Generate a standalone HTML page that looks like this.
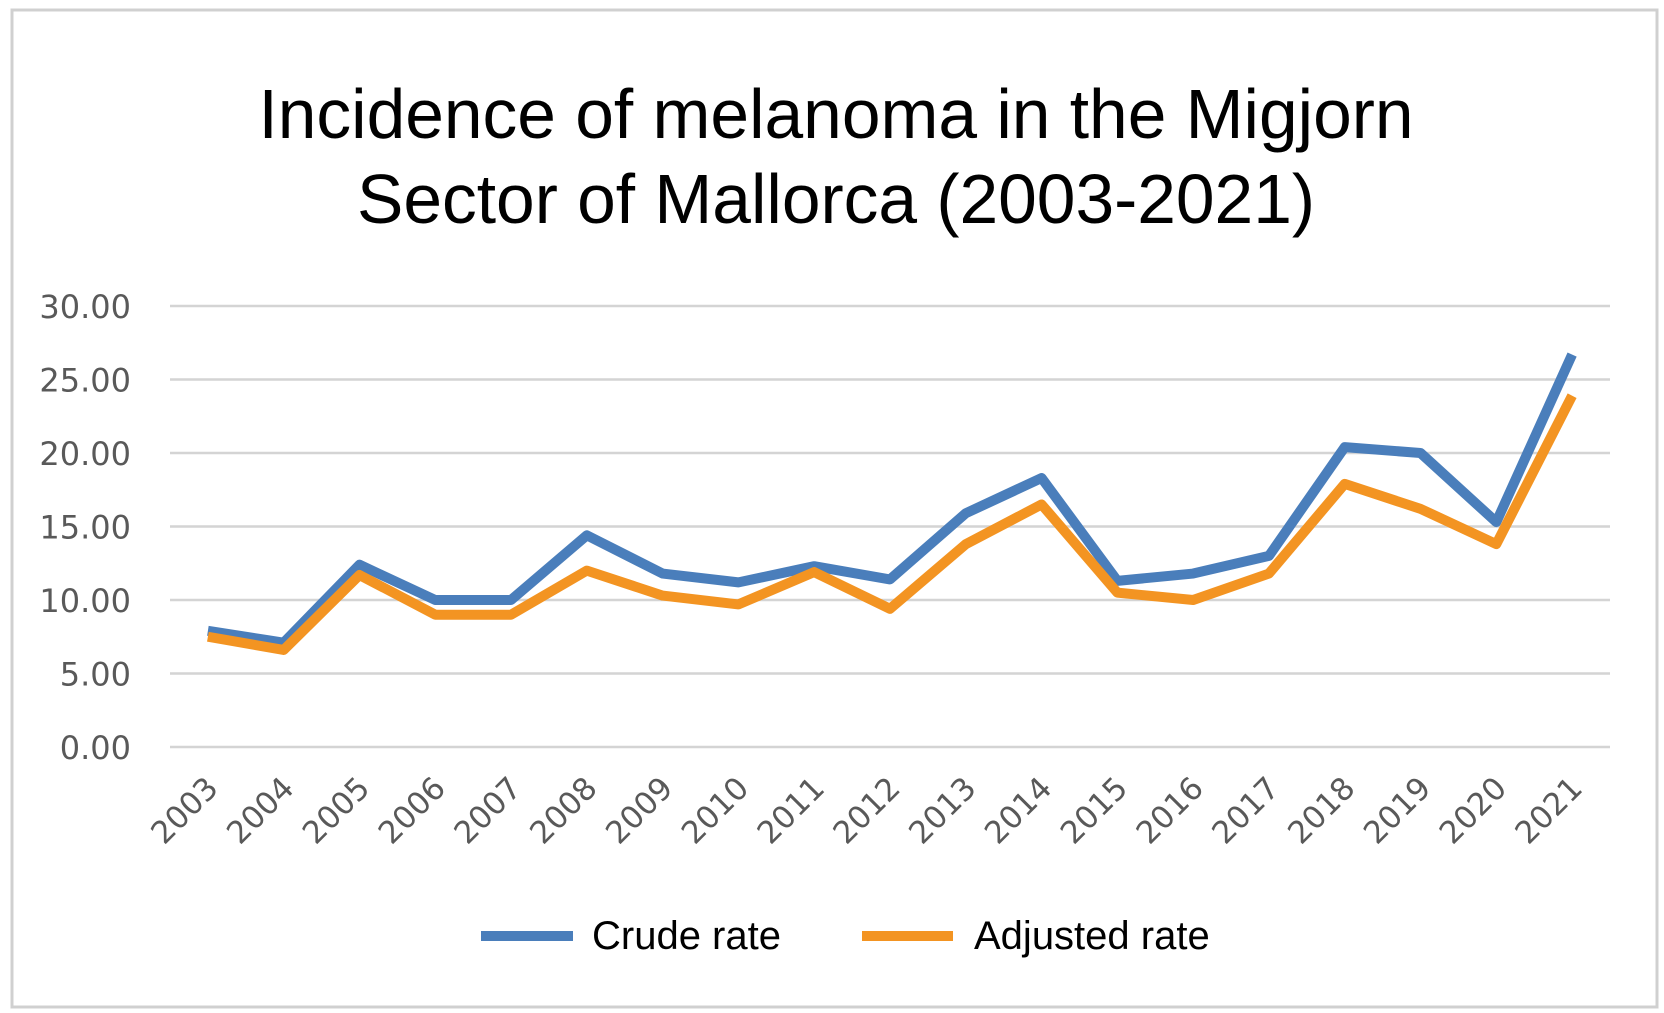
<!DOCTYPE html>
<html><head><meta charset="utf-8"><style>
html,body{margin:0;padding:0;background:#fff;}
svg{display:block;}
</style></head><body>
<svg id="chart" width="1664" height="1013" xmlns="http://www.w3.org/2000/svg">
<rect x="12" y="10" width="1645" height="997" fill="#fff" stroke="#d0d0d0" stroke-width="3"/>
<text x="836" y="138" text-anchor="middle" font-family="Liberation Sans, sans-serif" font-size="69.5" fill="#000">Incidence of melanoma in the Migjorn</text>
<text x="836" y="223" text-anchor="middle" font-family="Liberation Sans, sans-serif" font-size="69.5" fill="#000">Sector of Mallorca (2003-2021)</text>
<g id="grid"></g><g id="yticks"></g><g id="xticks"></g><g id="series"></g>
<g>
<line x1="481" y1="936" x2="573" y2="936" stroke="#4a7ebb" stroke-width="10"/>
<text x="592" y="949" font-family="Liberation Sans, sans-serif" font-size="40" fill="#000">Crude rate</text>
<line x1="862" y1="936" x2="953" y2="936" stroke="#f39422" stroke-width="10"/>
<text x="974" y="949" font-family="Liberation Sans, sans-serif" font-size="40" fill="#000">Adjusted rate</text>
</g>
</svg>
<script>
const years = ['2003','2004','2005','2006','2007','2008','2009','2010','2011','2012','2013','2014','2015','2016','2017','2018','2019','2020','2021'];
const crudeRate = [7.9,7.1,12.4,10.0,10.0,14.4,11.8,11.2,12.3,11.4,15.9,18.3,11.3,11.8,13.0,20.4,20.0,15.3,26.7];
const adjustedRate = [7.5,6.6,11.7,9.0,9.0,12.0,10.3,9.7,11.9,9.4,13.8,16.5,10.5,10.0,11.8,17.9,16.2,13.8,23.9];
const yTicks = [0,5,10,15,20,25,30];
const yTickLabels = ['0.00','5.00','10.00','15.00','20.00','25.00','30.00'];

const NS='http://www.w3.org/2000/svg';
const L=170,R=1610,T=306,B=747,yMax=30;
const bw=(R-L)/years.length;
const xs=i=>L+bw*(i+0.5);
const ys=v=>B-(v/yMax)*(B-T);
function mk(tag,parent,attrs){const e=document.createElementNS(NS,tag);for(const k in attrs)e.setAttribute(k,attrs[k]);document.getElementById(parent).appendChild(e);return e;}
yTicks.forEach((t,i)=>{
  const g=mk('line','grid',{x1:L,x2:R,y1:ys(t),y2:ys(t),stroke:'#d4d4d4','stroke-width':2.5});
  
  
  const tx=mk('text','yticks',{x:131,y:ys(t)+12,'text-anchor':'end','font-family':'DejaVu Sans, Liberation Sans, sans-serif','font-size':32,fill:'#595959'});
  tx.textContent=yTickLabels[i];
  
  
});
years.forEach((y,i)=>{
  const x=xs(i)+12,yy=790;
  const tx=mk('text','xticks',{x:x,y:yy,'text-anchor':'end','font-family':'DejaVu Sans, Liberation Sans, sans-serif','font-size':31,fill:'#595959',transform:'rotate(-45 '+x+' '+yy+')'});
  tx.textContent=y;
  
  
});
function line(data,color,name){
  const p=mk('polyline','series',{points:data.map((v,i)=>xs(i)+','+ys(v)).join(' '),fill:'none',stroke:color,'stroke-width':10,'stroke-linejoin':'round'});
  
  
}
line(crudeRate,'#4a7ebb','crude-rate-line');
line(adjustedRate,'#f39422','adjusted-rate-line');
</script>
</body></html>
